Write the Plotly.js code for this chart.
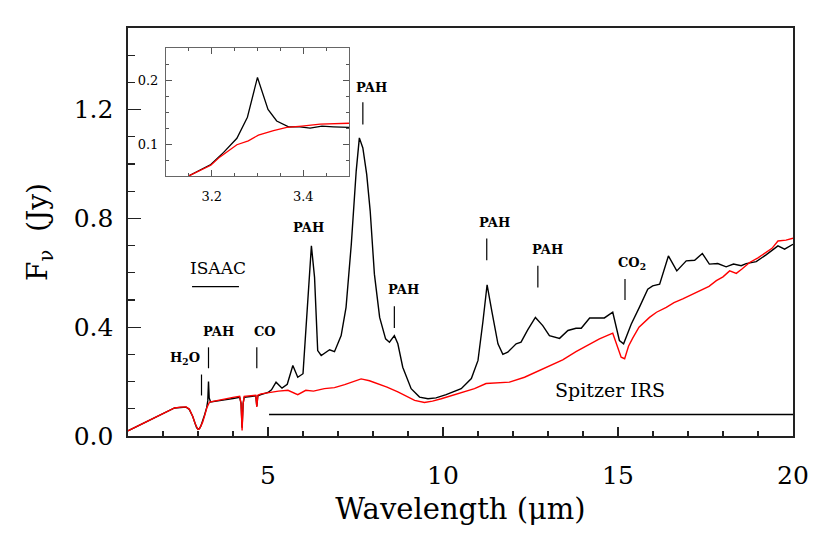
<!DOCTYPE html>
<html>
<head>
<meta charset="utf-8">
<script src="https://cdn.plot.ly/plotly-3.0.1.min.js"></script>
<style>html,body{margin:0;padding:0;background:#fff;}#chart{width:830px;height:553px;}</style>
</head>
<body>
<div id="chart"></div>
<script>
// ---- Data ----
// Black spectrum (ISAAC + Spitzer IRS, source with PAH emission)
var blackX = [1.0,1.5,2.0,2.33,2.5,2.66,2.75,2.85,2.92,2.96,3.0,3.04,3.08,3.13,3.19,3.25,3.28,3.3,3.32,3.36,3.5,3.76,4.0,4.19,4.23,4.26,4.29,4.32,4.5,4.65,4.68,4.71,4.8,5.0,5.1,5.23,5.4,5.55,5.71,5.85,6.0,6.14,6.24,6.33,6.42,6.52,6.76,6.9,7.09,7.23,7.38,7.52,7.61,7.71,7.82,7.92,8.04,8.19,8.36,8.47,8.61,8.71,8.85,9.09,9.33,9.57,9.8,10.09,10.52,10.81,11.0,11.14,11.26,11.4,11.57,11.71,11.85,12.09,12.23,12.42,12.64,12.85,13.04,13.33,13.57,13.8,13.95,14.19,14.61,14.85,14.95,15.04,15.16,15.38,15.61,15.85,15.99,16.19,16.44,16.68,16.95,17.19,17.41,17.61,17.85,18.09,18.3,18.52,18.66,18.95,19.23,19.57,19.76,20.0];
var blackY = [0.019,0.05,0.082,0.103,0.105,0.106,0.098,0.072,0.045,0.031,0.025,0.027,0.036,0.052,0.078,0.105,0.13,0.2,0.14,0.125,0.127,0.133,0.138,0.142,0.12,0.03,0.12,0.142,0.145,0.148,0.11,0.148,0.152,0.16,0.17,0.198,0.176,0.19,0.259,0.216,0.229,0.497,0.699,0.583,0.314,0.296,0.317,0.31,0.369,0.473,0.705,0.974,1.096,1.059,0.962,0.827,0.595,0.436,0.357,0.345,0.369,0.339,0.253,0.174,0.143,0.137,0.14,0.152,0.174,0.211,0.278,0.42,0.556,0.455,0.339,0.3,0.308,0.339,0.345,0.39,0.436,0.406,0.369,0.359,0.388,0.396,0.396,0.434,0.434,0.455,0.4,0.351,0.339,0.412,0.473,0.54,0.552,0.558,0.662,0.607,0.644,0.646,0.671,0.632,0.634,0.622,0.632,0.626,0.634,0.641,0.666,0.699,0.687,0.705];
// Red spectrum
var redX = [1.0,1.5,2.0,2.33,2.5,2.66,2.75,2.85,2.92,2.96,3.0,3.04,3.08,3.13,3.19,3.25,3.33,3.5,3.76,4.0,4.19,4.23,4.26,4.29,4.32,4.5,4.65,4.68,4.71,4.8,5.09,5.3,5.57,5.85,6.08,6.3,6.61,6.9,7.19,7.4,7.66,7.9,8.14,8.4,8.71,9.0,9.19,9.47,9.7,9.95,10.2,10.42,10.9,11.23,11.6,11.9,12.33,12.66,12.85,13.1,13.42,13.8,14.19,14.47,14.85,15.0,15.09,15.19,15.3,15.42,15.6,15.9,16.1,16.38,16.6,16.85,17.1,17.33,17.6,17.81,18.0,18.19,18.38,18.55,18.76,19.0,19.23,19.4,19.57,19.8,20.0];
var redY = [0.019,0.05,0.082,0.103,0.106,0.107,0.099,0.072,0.045,0.031,0.024,0.026,0.035,0.05,0.075,0.103,0.125,0.13,0.137,0.142,0.146,0.12,0.02,0.12,0.146,0.148,0.15,0.107,0.15,0.155,0.162,0.165,0.168,0.152,0.168,0.165,0.174,0.178,0.189,0.198,0.21,0.203,0.192,0.18,0.162,0.142,0.131,0.123,0.128,0.137,0.146,0.156,0.174,0.193,0.196,0.198,0.216,0.235,0.247,0.262,0.28,0.31,0.339,0.357,0.378,0.32,0.29,0.284,0.33,0.36,0.4,0.436,0.455,0.473,0.49,0.504,0.52,0.534,0.55,0.571,0.585,0.607,0.598,0.615,0.638,0.655,0.674,0.69,0.717,0.72,0.727];
// Inset (3.3 micron PAH feature)
var insetBlackX = [3.149,3.198,3.226,3.255,3.278,3.3,3.323,3.342,3.368,3.393,3.415,3.441,3.466,3.5];
var insetBlackY = [0.05,0.068,0.087,0.109,0.142,0.204,0.154,0.136,0.127,0.127,0.125,0.128,0.127,0.126];
var insetRedX = [3.149,3.198,3.218,3.255,3.28,3.302,3.335,3.364,3.397,3.437,3.5];
var insetRedY = [0.05,0.067,0.08,0.099,0.105,0.114,0.121,0.126,0.128,0.131,0.1325];
// Axis ticks
var xTickVals = [5,10,15,20];
var yTickVals = [0.0,0.4,0.8,1.2];
var yTickText = ['0.0','0.4','0.8','1.2'];
var insetXTicks = [3.2,3.4];
var insetYTicks = [0.1,0.2];
// Labels
var labelText = ['<b>PAH</b>','<b>PAH</b>','<b>PAH</b>','<b>PAH</b>','<b>PAH</b>','<b>PAH</b>','<b>CO</b>','<b>H<sub>2</sub>O</b>','<b>CO<sub>2</sub></b>','ISAAC','Spitzer IRS'];
var labelX = [7.97,6.17,8.88,11.47,12.98,3.58,4.92,2.63,15.39,3.58,14.76];
var labelY = [1.281,0.766,0.537,0.784,0.684,0.385,0.385,0.286,0.636,0.619,0.168];
var labelSize = [13,13,13,13,13,13,13,13,13,17,19];
// Marker ticks: x, y0, y1
var markX = [7.71,8.61,11.25,12.71,15.2,3.3,4.68,3.1];
var markY0 = [1.145,0.397,0.646,0.546,0.5,0.249,0.249,0.149];
var markY1 = [1.227,0.477,0.726,0.626,0.577,0.326,0.326,0.226];
// Instrument coverage bars: x0, x1, y
var barX0 = [2.83,5.03];
var barX1 = [4.17,20.0];
var barY = [0.549,0.079];

var FONT = 'DejaVu Serif, Liberation Serif, serif';
var AX = '#222';

var traces = [
  {x: blackX, y: blackY, type:'scatter', mode:'lines', line:{color:'#000', width:1.4}, xaxis:'x', yaxis:'y', hoverinfo:'skip'},
  {x: redX, y: redY, type:'scatter', mode:'lines', line:{color:'#ff0000', width:1.4}, xaxis:'x', yaxis:'y', hoverinfo:'skip'},
  {x: insetBlackX, y: insetBlackY, type:'scatter', mode:'lines', line:{color:'#000', width:1.3}, xaxis:'x2', yaxis:'y2', hoverinfo:'skip'},
  {x: insetRedX, y: insetRedY, type:'scatter', mode:'lines', line:{color:'#ff0000', width:1.3}, xaxis:'x2', yaxis:'y2', hoverinfo:'skip'}
];

var shapes = [];
for (var i = 0; i < markX.length; i++) {
  shapes.push({type:'line', xref:'x', yref:'y', x0:markX[i], x1:markX[i], y0:markY0[i], y1:markY1[i], line:{color:'#000', width:1.2}});
}
for (var j = 0; j < barX0.length; j++) {
  shapes.push({type:'line', xref:'x', yref:'y', x0:barX0[j], x1:barX1[j], y0:barY[j], y1:barY[j], line:{color:'#000', width:1.4}});
}

var annotations = [];
for (var k = 0; k < labelText.length; k++) {
  annotations.push({text:labelText[k], x:labelX[k], y:labelY[k], xref:'x', yref:'y', showarrow:false, xanchor:'center', yanchor:'middle', font:{family:FONT, size:labelSize[k], color:'#000'}});
}

var layout = {
  width: 830, height: 553,
  margin: {l:128, r:37, t:28, b:117, pad:0},
  paper_bgcolor:'#fff', plot_bgcolor:'rgba(0,0,0,0)',
  showlegend:false,
  font:{family:FONT, color:'#000'},
  xaxis: {
    domain:[0,1], range:[1,20], tickvals:xTickVals, ticktext:xTickVals.map(String),
    ticks:'inside', ticklen:9, tickwidth:1.3, tickcolor:AX,
    minor:{dtick:1, tick0:0, ticks:'inside', ticklen:5, tickwidth:1.2, tickcolor:AX},
    showline:true, linecolor:AX, linewidth:1.6, mirror:true,
    showgrid:false, zeroline:false,
    tickfont:{family:FONT, size:25, color:'#000'}, ticklabelstandoff:16,
    title:{text:'Wavelength (\u03BCm)', font:{family:FONT, size:29, color:'#000'}, standoff:10}
  },
  xaxis3: {
    overlaying:'x', anchor:'y', side:'top', range:[1,20], tickvals:xTickVals,
    ticks:'inside', ticklen:9, tickwidth:1.3, tickcolor:AX, showticklabels:false,
    minor:{dtick:1, tick0:0, ticks:'inside', ticklen:5, tickwidth:1.2, tickcolor:AX},
    showline:false, showgrid:false, zeroline:false
  },
  yaxis: {
    domain:[0,1], range:[0,1.5], tickvals:yTickVals, ticktext:yTickText,
    ticks:'inside', ticklen:13, tickwidth:1.3, tickcolor:AX,
    minor:{dtick:0.1, tick0:0, ticks:'inside', ticklen:7, tickwidth:1.2, tickcolor:AX},
    showline:true, linecolor:AX, linewidth:1.6, mirror:true,
    showgrid:false, zeroline:false,
    tickfont:{family:FONT, size:25, color:'#000'}, ticklabelstandoff:8,
    title:{text:'F<sub>\u03BD</sub>  (Jy)', font:{family:FONT, size:28, color:'#000'}, standoff:18}
  },
  yaxis3: {
    overlaying:'y', anchor:'x', side:'right', range:[0,1.5], tickvals:yTickVals,
    ticks:'inside', ticklen:13, tickwidth:1.3, tickcolor:AX, showticklabels:false,
    minor:{dtick:0.1, tick0:0, ticks:'inside', ticklen:7, tickwidth:1.2, tickcolor:AX},
    showline:false, showgrid:false, zeroline:false
  },
  xaxis2: {
    domain:[0.0571,0.3323], anchor:'y2', range:[3.1,3.5], tickvals:insetXTicks, ticktext:['3.2','3.4'],
    ticks:'inside', ticklen:6, tickwidth:1, tickcolor:'#555',
    minor:{dtick:0.05, tick0:3.1, ticks:'inside', ticklen:3, tickwidth:1, tickcolor:'#555'},
    showline:true, linecolor:'#666', linewidth:1, mirror:'ticks',
    showgrid:false, zeroline:false,
    tickfont:{family:FONT, size:13, color:'#000'}, ticklabelstandoff:8
  },
  yaxis2: {
    domain:[0.637,0.951], anchor:'x2', range:[0.05,0.25], tickvals:insetYTicks, ticktext:['0.1','0.2'],
    ticks:'inside', ticklen:6, tickwidth:1, tickcolor:'#555',
    minor:{dtick:0.025, tick0:0.05, ticks:'inside', ticklen:3, tickwidth:1, tickcolor:'#555'},
    showline:true, linecolor:'#666', linewidth:1, mirror:'ticks',
    showgrid:false, zeroline:false,
    tickfont:{family:FONT, size:13, color:'#000'}, ticklabelstandoff:4
  },
  shapes: shapes,
  annotations: annotations
};

Plotly.newPlot('chart', traces, layout, {staticPlot:true, displayModeBar:false});
</script>
</body>
</html>
